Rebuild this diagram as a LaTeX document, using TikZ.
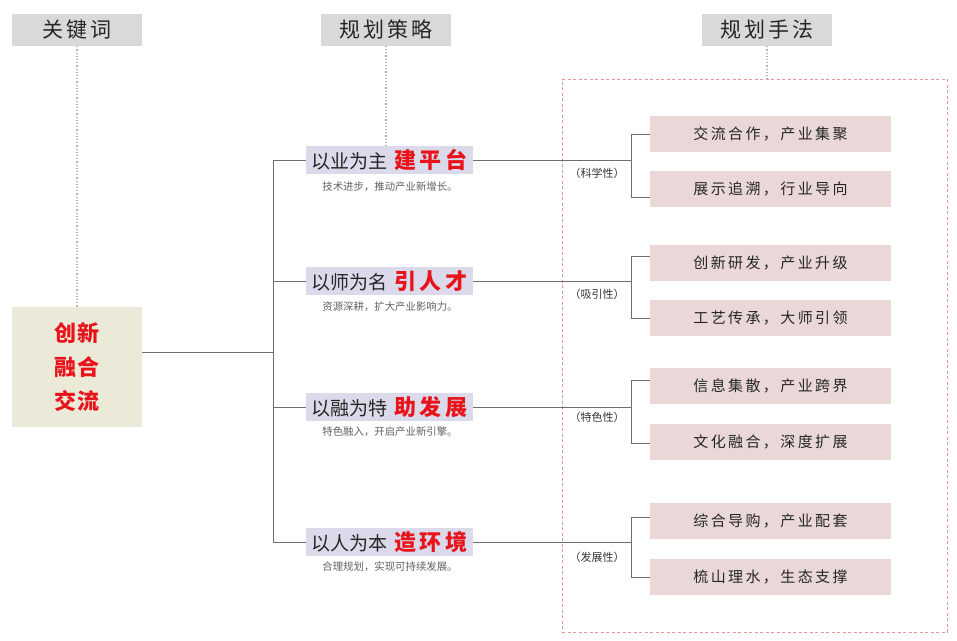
\documentclass[tikz,border=0pt]{standalone}
\usepackage{fontspec}
\setmainfont{Noto Sans CJK SC}
\newfontfamily\cjk{Noto Sans CJK SC}
\newfontfamily\cjkhd[LetterSpace=14]{Noto Sans CJK SC}
\newfontfamily\cjkme[LetterSpace=16]{Noto Sans CJK SC}
\newfontfamily\cjkred[LetterSpace=14]{Noto Sans CJK SC}
\newfontfamily\cjkkey[LetterSpace=6]{Noto Sans CJK SC}
\definecolor{hdgray}{HTML}{D9D9D9}
\definecolor{keybg}{HTML}{EBE9D7}
\definecolor{lav}{HTML}{DADAEA}
\definecolor{pinkbox}{HTML}{EAD8D8}
\definecolor{redc}{HTML}{E8141C}
\definecolor{linegray}{HTML}{6E6E6E}
\definecolor{dotgray}{HTML}{B0B0B0}
\definecolor{dashred}{HTML}{E89595}
\definecolor{txtdark}{HTML}{262626}
\newcommand{\strat}[2]{{\cjk\fontsize{19}{19}\selectfont #1}\hspace{7pt}{\cjkred\bfseries\fontsize{22}{22}\selectfont\color{redc}#2}}
\begin{document}
\begin{tikzpicture}[x=1pt,y=-1pt,
  header/.style={fill=hdgray, minimum width=130pt, minimum height=32pt, inner sep=0pt, font=\cjkhd\fontsize{21}{21}\selectfont, text=txtdark},
  keybox/.style={fill=keybg, minimum width=130pt, minimum height=120pt, inner sep=0pt, align=center, text=redc, font=\cjkkey\bfseries\fontsize{22}{34}\selectfont},
  stratbox/.style={fill=lav, minimum width=167pt, minimum height=28pt, inner sep=0pt, text=txtdark},
  methbox/.style={fill=pinkbox, minimum width=241pt, minimum height=36pt, inner sep=0pt, font=\cjkme\fontsize{15}{15}\selectfont, text=txtdark},
  subtxt/.style={font=\cjk\fontsize{10.4}{11}\selectfont, text=black!62, inner sep=0pt},
  lbl/.style={font=\cjk\fontsize{11}{12}\selectfont, text=black!80, inner sep=0pt},
  conn/.style={draw=linegray, line width=0.9pt},
  dotln/.style={draw=dotgray, line width=1.2pt, dotted},
  dashbox/.style={draw=dashred, line width=0.9pt, dash pattern=on 3pt off 2.5pt, minimum width=385pt, minimum height=553pt, inner sep=0pt}
]
\useasboundingbox (0,0) rectangle (957,640);
\fill[white] (0,0) rectangle (957,640);

% headers
\node[header] (h1) at (77,30) {关键词};
\node[header] (h2) at (386,29.5) {规划策略};
\node[header] (h3) at (767,30) {规划手法};

% frame
\node[dashbox] (frame) at (754.5,355.5) {};

% key box
\node[keybox] (key) at (77,367) {创新\\融合\\交流};

% strategy boxes
\node[stratbox] (s1) at (389.5,160) {\strat{以业为主}{建平台}};
\node[stratbox] (s2) at (389.5,281) {\strat{以师为名}{引人才}};
\node[stratbox] (s3) at (389.5,407) {\strat{以融为特}{助发展}};
\node[stratbox] (s4) at (389.5,542) {\strat{以人为本}{造环境}};

\node[subtxt] (t1) at (390,187) {技术进步，推动产业新增长。};
\node[subtxt] (t2) at (390,307) {资源深耕，扩大产业影响力。};
\node[subtxt] (t3) at (390,432) {特色融入，开启产业新引擎。};
\node[subtxt] (t4) at (390,567) {合理规划，实现可持续发展。};

% method boxes
\node[methbox] (m11) at (770.5,133.5) {交流合作，产业集聚};
\node[methbox] (m12) at (770.5,189) {展示追溯，行业导向};
\node[methbox] (m21) at (770.5,263) {创新研发，产业升级};
\node[methbox] (m22) at (770.5,318) {工艺传承，大师引领};
\node[methbox] (m31) at (770.5,386) {信息集散，产业跨界};
\node[methbox] (m32) at (770.5,442) {文化融合，深度扩展};
\node[methbox] (m41) at (770.5,521) {综合导购，产业配套};
\node[methbox] (m42) at (770.5,577) {梳山理水，生态支撑};

% labels
\node[lbl] (l1) at (597,173) {（科学性）};
\node[lbl] (l2) at (597,294) {（吸引性）};
\node[lbl] (l3) at (597,417) {（特色性）};
\node[lbl] (l4) at (597,557) {（发展性）};

% dotted header lines
\draw[dotln] (h1.south) -- (h1.south |- key.north);
\draw[dotln] (h2.south) -- (h2.south |- s1.north);
\draw[dotln] (h3.south) -- (h3.south |- frame.north);

% tree
\coordinate (kj) at (273,352);
\coordinate (tt) at (273,160);
\coordinate (tb) at (273,542);
\draw[conn] (kj -| key.east) -- (kj);
\draw[conn] (tt) -- (tb);
\foreach \s in {s1,s2,s3,s4}{
  \draw[conn] (\s.west -| tt) -- (\s.west);
}

% brackets
\coordinate (b1t) at (631,134); \coordinate (b1b) at (631,197);
\coordinate (b2t) at (631,256); \coordinate (b2b) at (631,318);
\coordinate (b3t) at (631,380); \coordinate (b3b) at (631,443);
\coordinate (b4t) at (631,517); \coordinate (b4b) at (631,577);
\draw[conn] (s1.east) -- (s1.east -| b1t);
\draw[conn] (s2.east) -- (s2.east -| b2t);
\draw[conn] (s3.east) -- (s3.east -| b3t);
\draw[conn] (s4.east) -- (s4.east -| b4t);
\draw[conn] (m11.west |- b1t) -- (b1t) -- (b1b) -- (m12.west |- b1b);
\draw[conn] (m21.west |- b2t) -- (b2t) -- (b2b) -- (m22.west |- b2b);
\draw[conn] (m31.west |- b3t) -- (b3t) -- (b3b) -- (m32.west |- b3b);
\draw[conn] (m41.west |- b4t) -- (b4t) -- (b4b) -- (m42.west |- b4b);
\end{tikzpicture}
\end{document}
